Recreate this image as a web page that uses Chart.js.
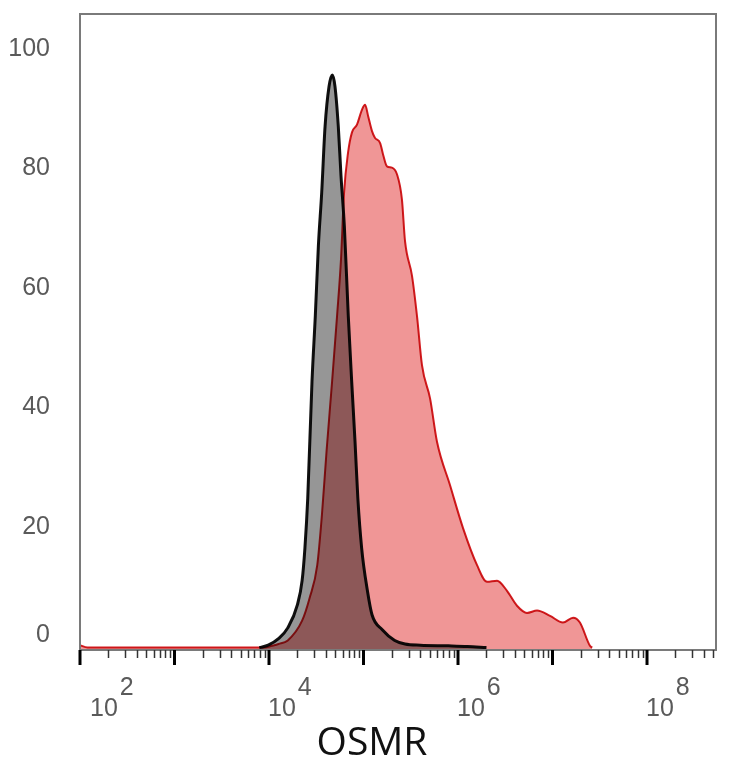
<!DOCTYPE html>
<html>
<head>
<meta charset="utf-8">
<script src="https://cdn.jsdelivr.net/npm/chart.js@4"></script>
<style>
  html, body { margin: 0; padding: 0; background: #fff; }
  #wrap { width: 734px; height: 768px; }
</style>
</head>
<body>
<div id="wrap"><canvas id="grafico"></canvas></div>
<script>
// OSMR intensity (x, log scale) and percent of max (y)
const isoX = [7.9e3, 9.8e3, 1.26e4, 1.58e4, 2.0e4, 2.24e4, 2.4e4, 2.57e4, 2.85e4, 3.09e4, 3.33e4,
    3.61e4, 3.92e4, 4.32e4, 4.68e4, 4.99e4, 5.41e4, 5.78e4, 6.27e4, 6.9e4, 7.5e4, 8.13e4,
    8.71e4, 9.55e4, 1.1e5, 1.23e5, 1.58e5, 2.14e5, 2.75e5, 4.0e5, 7.9e5, 1.26e6, 2.0e6];
const isoY = [0, 0.4, 1.5, 3.3, 7.2, 11.2, 16.7, 25, 44.5, 55.5, 67.2,
    76.1, 87.2, 93.9, 95.8, 93.9, 87.2, 78.9, 70.5, 55.5, 44.5, 34.5,
    25, 16.7, 9.5, 5.5, 3, 1.2, 0.6, 0.4, 0.3, 0.2, 0];

const osmrX = [1.0e2, 1.2e2, 8.9e3, 1.07e4, 1.26e4, 1.58e4, 2.24e4, 2.69e4, 3.24e4, 3.63e4,
    4.07e4, 4.65e4, 5.25e4, 5.78e4, 6.22e4, 6.86e4, 7.55e4, 8.53e4, 9.64e4, 1.04e5, 1.12e5,
    1.23e5, 1.32e5, 1.5e5, 1.61e5, 1.77e5, 2.0e5, 2.26e5, 2.55e5, 2.75e5, 3.26e5, 3.68e5,
    4.16e5, 5.06e5, 6.0e5, 8.22e5, 1.13e6, 1.59e6, 2.03e6, 2.59e6, 3.3e6, 4.21e6, 5.37e6,
    6.86e6, 9.42e6, 1.29e7, 1.65e7, 1.95e7, 2.49e7, 2.63e7];
const osmrY = [0.4, 0, 0, 0.3, 0.6, 1.2, 4.5, 8.3, 13.8, 22.2,
    33, 44.5, 55.5, 65, 76, 82.8, 86.2, 87.5, 90, 90.8, 88.9,
    86.4, 85.3, 84.4, 82.5, 80.5, 80.3, 79.2, 75, 68, 62.2, 55.5,
    47.2, 41.7, 34.4, 27.2, 20, 13.8, 11, 11.2, 9.5, 7, 5.8,
    6.2, 5.3, 4.2, 5, 4.2, 0.3, 0];

const yTicks = [0, 20, 40, 60, 80, 100];
const xDecades = [2, 3, 4, 5, 6, 7, 8];
const xLabelDecades = [2, 4, 6, 8];

const pontos = (xs, ys) => xs.map((x, i) => ({ x: x, y: ys[i] }));

const fonteNum = "25px 'Liberation Sans', Arial, sans-serif";

const moldura = {
    id: 'moldura',
    beforeDraw(chart) {
        const ctx = chart.ctx;
        ctx.save();
        ctx.fillStyle = '#ffffff';
        ctx.fillRect(0, 0, chart.width, chart.height);
        ctx.restore();
    },
    beforeDatasetsDraw(chart) {
        chart.ctx.save();
        chart.ctx.globalCompositeOperation = 'multiply';
    },
    afterDatasetsDraw(chart) {
        chart.ctx.restore();
    },
    afterDraw(chart) {
        const ctx = chart.ctx;
        const a = chart.chartArea;
        const xs = chart.scales.x;
        const ys = chart.scales.y;
        ctx.save();

        // caixa
        ctx.strokeStyle = '#7a7a7a';
        ctx.lineWidth = 2;
        ctx.strokeRect(a.left, a.top, a.right - a.left, a.bottom - a.top);

        // ticks menores
        ctx.strokeStyle = '#333';
        ctx.lineWidth = 1.5;
        xDecades.forEach(d => {
            for (let k = 2; k <= 9; k++) {
                const v = k * Math.pow(10, d);
                if (v > xs.max) break;
                const px = Math.round(xs.getPixelForValue(v)) + 0.5;
                ctx.beginPath();
                ctx.moveTo(px, a.bottom);
                ctx.lineTo(px, a.bottom + 8);
                ctx.stroke();
            }
        });

        // ticks maiores
        ctx.strokeStyle = '#000';
        ctx.lineWidth = 3;
        xDecades.forEach(d => {
            const px = xs.getPixelForValue(Math.pow(10, d));
            ctx.beginPath();
            ctx.moveTo(px, a.bottom);
            ctx.lineTo(px, a.bottom + 15);
            ctx.stroke();
        });

        // rótulos x
        ctx.fillStyle = '#5a5a5a';
        ctx.font = fonteNum;
        ctx.textAlign = 'left';
        ctx.textBaseline = 'alphabetic';
        xLabelDecades.forEach(d => {
            const px = xs.getPixelForValue(Math.pow(10, d));
            const x0 = Math.max(px - 1, a.left + 10);
            ctx.fillText('10', x0, 716);
            const w = ctx.measureText('10').width;
            ctx.fillText(String(d), x0 + w + 2, 695);
        });

        // rótulos y
        ctx.textAlign = 'right';
        ctx.textBaseline = 'middle';
        yTicks.forEach(v => {
            let py = ys.getPixelForValue(v) - 1;
            if (v === 0) py -= 11;
            ctx.fillText(String(v), 50, py);
        });

        // título do eixo
        ctx.fillStyle = '#111';
        ctx.font = "39px 'Open Sans', sans-serif";
        ctx.textAlign = 'center';
        ctx.textBaseline = 'alphabetic';
        ctx.fillText('OSMR', 372, 755);
        ctx.restore();
    }
};

new Chart(document.getElementById('grafico'), {
    type: 'scatter',
    data: {
        datasets: [{
            label: 'Isotype',
            data: pontos(isoX, isoY),
            showLine: true,
            borderColor: '#111111',
            backgroundColor: 'rgb(150,150,150)',
            borderWidth: 3,
            fill: 'start',
            pointRadius: 0,
            cubicInterpolationMode: 'monotone'
        }, {
            label: 'OSMR',
            data: pontos(osmrX, osmrY),
            showLine: true,
            borderColor: 'rgb(212,28,32)',
            backgroundColor: 'rgb(240,150,150)',
            borderWidth: 2,
            fill: 'start',
            pointRadius: 0,
            cubicInterpolationMode: 'monotone'
        }]
    },
    options: {
        responsive: true,
        maintainAspectRatio: false,
        animation: false,
        layout: { padding: { left: 80, top: 14, right: 18, bottom: 118 } },
        plugins: {
            legend: { display: false },
            tooltip: { enabled: false }
        },
        scales: {
            x: { type: 'logarithmic', display: false, min: 100, max: 5.37e8 },
            y: { type: 'linear', display: false, min: -0.4, max: 106 }
        }
    },
    plugins: [moldura]
});
</script>
</body>
</html>
